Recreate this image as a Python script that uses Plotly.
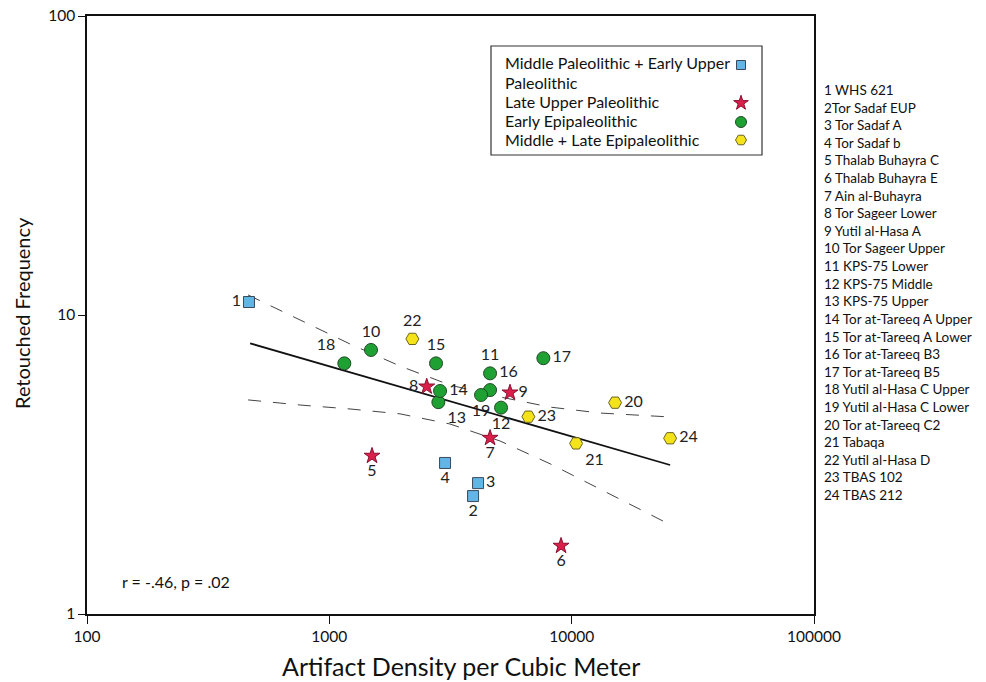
import plotly.graph_objects as go

# Site numbers, artifact density (per m^3) and retouched-tool frequency
site_ids = list(range(1, 25))
density = [466, 3918, 4109, 3003, 1500, 9040, 4605, 2523, 5566, 1486, 4605, 5112,
           2818, 2864, 2756, 4605, 7642, 1153, 4228, 15105, 10430, 2201, 6627, 25480]
retouch = [11.05, 2.48, 2.74, 3.20, 3.38, 1.69, 3.88, 5.76, 5.50, 7.64, 6.38, 4.90,
           5.11, 5.57, 6.89, 5.61, 7.17, 6.89, 5.40, 5.09, 3.72, 8.32, 4.57, 3.87]
period = ["MP", "MP", "MP", "MP", "LUP", "LUP", "LUP", "LUP", "LUP", "EE", "EE", "EE",
          "EE", "EE", "EE", "EE", "EE", "EE", "EE", "MLE", "MLE", "MLE", "MLE", "MLE"]
label_pos = ["middle left", "bottom center", "middle right", "bottom center", "bottom center",
             "bottom center", "bottom center", "middle left", "middle right", "top center",
             "top center", "bottom center", "bottom right", "middle right", "top center",
             "top right", "middle right", "top left", "bottom center", "middle right",
             "bottom right", "top center", "middle right", "middle right"]
site_names = ["1 WHS 621", "2Tor Sadaf EUP", "3 Tor Sadaf A", "4 Tor Sadaf b",
              "5 Thalab Buhayra C", "6 Thalab Buhayra E", "7 Ain al-Buhayra",
              "8 Tor Sageer Lower", "9 Yutil al-Hasa A", "10 Tor Sageer Upper",
              "11 KPS-75 Lower", "12 KPS-75 Middle", "13 KPS-75 Upper",
              "14 Tor at-Tareeq A Upper", "15 Tor at-Tareeq A Lower", "16 Tor at-Tareeq B3",
              "17 Tor at-Tareeq B5", "18 Yutil al-Hasa C Upper", "19 Yutil al-Hasa C Lower",
              "20 Tor at-Tareeq C2", "21 Tabaqa", "22 Yutil al-Hasa D", "23 TBAS 102",
              "24 TBAS 212"]

# Regression fit and its confidence band (log-log)
fit_x = [471, 25480]
fit_y = [8.04, 3.15]
band_x = [462, 757, 1217, 1958, 3148, 5064, 8146, 13104, 25480]
band_upper = [11.67, 9.62, 8.00, 6.75, 5.83, 5.32, 4.92, 4.70, 4.56]
band_lower = [5.20, 5.00, 4.85, 4.67, 4.32, 3.79, 3.18, 2.62, 1.99]

groups = {
    "MP": dict(name="Middle Paleolithic + Early Upper<br>Paleolithic", symbol="square",
               color="#62B5E5", line="#3a4a5a", size=11),
    "LUP": dict(name="Late Upper Paleolithic", symbol="star", color="#DA1F4B",
                line="#8a1030", size=12),
    "EE": dict(name="Early Epipaleolithic", symbol="circle", color="#1FA032",
               line="#24492a", size=13),
    "MLE": dict(name="Middle + Late Epipaleolithic", symbol="hexagon2", color="#F4E31A",
                line="#6a6420", size=13),
}

FONT = "Lato, 'Open Sans', sans-serif"
T, B = 16, 68
PH = 682 - T - B
fig = go.Figure()

fig.add_trace(go.Scatter(x=band_x, y=band_upper, mode="lines", showlegend=False,
                         line=dict(color="#444", width=1, dash="13px,12px"), hoverinfo="skip"))
fig.add_trace(go.Scatter(x=band_x, y=band_lower, mode="lines", showlegend=False,
                         line=dict(color="#444", width=1, dash="13px,12px"), hoverinfo="skip"))
fig.add_trace(go.Scatter(x=fit_x, y=fit_y, mode="lines", showlegend=False,
                         line=dict(color="#111", width=1.8), hoverinfo="skip"))

for key, g in groups.items():
    idx = [i for i, p in enumerate(period) if p == key]
    fig.add_trace(go.Scatter(
        x=[density[i] for i in idx], y=[retouch[i] for i in idx],
        mode="markers+text", text=[str(site_ids[i]) for i in idx],
        textposition=[label_pos[i] for i in idx],
        textfont=dict(family=FONT, size=16, color="#222"),
        marker=dict(symbol=g["symbol"], size=g["size"], color=g["color"],
                    line=dict(color=g["line"], width=1)),
        showlegend=False, name=g["name"]))


def py(pix):
    """Convert a vertical page position to paper units."""
    return (682 - B - pix) / PH


# Legend box markers on an overlay axis in paper-like units
leg_marker_y = [py(65), py(103), py(122), py(140)]
for key, yy in zip(groups, leg_marker_y):
    g = groups[key]
    fig.add_trace(go.Scatter(
        x=[(741 - 87) / 727], y=[yy], xaxis="x2", yaxis="y2", mode="markers",
        showlegend=False,
        marker=dict(symbol=g["symbol"], size=g["size"] - 2 if key != "LUP" else 11,
                    color=g["color"], line=dict(color=g["line"], width=1)),
        hoverinfo="skip"))

fig.add_shape(type="rect", xref="paper", yref="paper", x0=(491 - 87) / 727,
              x1=(762 - 87) / 727, y0=py(155), y1=py(46), line=dict(color="#333", width=1.2))

leg_lines = [("Middle Paleolithic + Early Upper", 63), ("Paleolithic", 82),
             ("Late Upper Paleolithic", 101), ("Early Epipaleolithic", 120),
             ("Middle + Late Epipaleolithic", 139)]
annotations = []
for txt, yy in leg_lines:
    annotations.append(dict(text=txt, xref="paper", yref="paper", x=(503 - 87) / 727,
                            y=py(yy), xanchor="left", yanchor="middle", showarrow=False,
                            font=dict(family=FONT, size=16, color="#111")))

for i, nm in enumerate(site_names):
    annotations.append(dict(text=nm, xref="paper", yref="paper", x=(822 - 87) / 727,
                            y=py(90 + i * 17.61), xanchor="left", yanchor="middle",
                            showarrow=False, font=dict(family=FONT, size=13.5, color="#111")))

annotations.append(dict(text="r = -.46, p = .02", xref="paper", yref="paper",
                        x=(120 - 87) / 727, y=py(581), xanchor="left", yanchor="middle",
                        showarrow=False, font=dict(family=FONT, size=16, color="#111")))
annotations.append(dict(text="Artifact Density per Cubic Meter", xref="paper", yref="paper",
                        x=(461 - 87) / 727, y=py(666), xanchor="center",
                        yanchor="middle", showarrow=False,
                        font=dict(family=FONT, size=25, color="#111")))
annotations.append(dict(text="Retouched Frequency", xref="paper", yref="paper",
                        x=(22 - 87) / 727, y=py(313), xanchor="center",
                        yanchor="middle", textangle=-90, showarrow=False,
                        font=dict(family=FONT, size=20, color="#111")))

fig.update_layout(
    width=986, height=682,
    margin=dict(l=87, r=172, t=T, b=B),
    paper_bgcolor="white", plot_bgcolor="white",
    showlegend=False,
    annotations=annotations,
    xaxis=dict(type="log", range=[2, 5], tickvals=[100, 1000, 10000, 100000],
               ticktext=["100", "1000", "10000", "100000"], ticks="outside", ticklen=8,
               tickcolor="#111", showline=True, linecolor="#111", linewidth=1.5,
               mirror=True, showgrid=False, zeroline=False, automargin=False,
               tickfont=dict(family=FONT, size=15.5, color="#111")),
    yaxis=dict(type="log", range=[0, 2], tickvals=[1, 10, 100],
               ticktext=["1", "10", "100"], ticks="outside", ticklen=7,
               tickcolor="#111", showline=True, linecolor="#111", linewidth=1.5,
               mirror=True, showgrid=False, zeroline=False, automargin=False,
               tickfont=dict(family=FONT, size=15.5, color="#111")),
    xaxis2=dict(overlaying="x", range=[0, 1], visible=False, fixedrange=True,
                automargin=False),
    yaxis2=dict(overlaying="y", range=[0, 1], visible=False, fixedrange=True,
                automargin=False),
)

fig.write_html("out.html")
